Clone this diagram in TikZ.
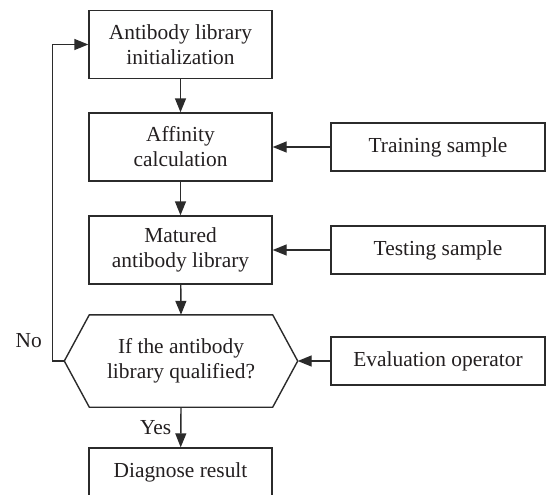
\documentclass[tikz,border=0pt]{standalone}
\usepackage{fontspec}
\setmainfont{Liberation Serif}
\usepackage{tikz}
\usetikzlibrary{arrows.meta,positioning,calc}
\definecolor{inkgray}{HTML}{231F20}
\definecolor{linegray}{HTML}{2B2B2B}
\tikzset{
  blk/.style={draw=linegray, line width=.7pt, fill=white, align=center, inner sep=2pt, text=inkgray, font=\fontsize{10.7}{12.5}\selectfont},
  blkm/.style={blk, minimum width=91.5pt, minimum height=34pt},
  blks/.style={blk, minimum width=107pt, minimum height=24pt},
  hexa/.style={blk, draw=none, fill=none, minimum width=116pt, minimum height=45.5pt},
  ar/.style={-{Triangle[length=7pt,width=5.5pt]}, line width=.7pt, draw=linegray},
  lbl/.style={inner sep=1pt, text=inkgray, font=\fontsize{10.7}{12.5}\selectfont},
}
\begin{document}
\begin{tikzpicture}[x=1pt,y=1pt]
  \useasboundingbox (0,0) rectangle (273,247);
  % main column
  \node[blkm] (init) at (90.25,224.75) {Antibody library\\initialization};
  \node[blkm] (aff) at (90.25,173.5) {Affinity\\calculation};
  \node[blkm] (mat) at (90.25,122) {Matured\\antibody library};
  \node[hexa] (qual) at (90.5,66.5) {If the antibody\\library qualified?};
  \draw[line width=.7pt, draw=linegray] (qual.west) -- ([xshift=12.5pt]qual.north west) -- ([xshift=-12.5pt]qual.north east) -- (qual.east) -- ([xshift=-12.5pt]qual.south east) -- ([xshift=12.5pt]qual.south west) -- cycle;
  \node[blkm, minimum height=24pt] (diag) at (90.25,11) {Diagnose result};
  % inputs on the right
  \node[blks] (train) at (219,173.5) {Training sample};
  \node[blks] (test) at (219,122) {Testing sample};
  \node[blks] (eval) at (219,66.5) {Evaluation operator};
  % connectors
  \draw[ar] (init) -- (aff);
  \draw[ar] (aff) -- (mat);
  \draw[ar] (mat) -- (qual.north);
  \draw[ar] (qual.south) -- node[lbl, left=3.5pt] (yes) {Yes} (diag);
  \draw[ar] (train) -- (aff);
  \draw[ar] (test) -- (mat);
  \draw[ar] (eval) -- (qual.east);
  \coordinate (bend) at ($(qual.west)+(-6pt,0)$);
  \draw[ar] (qual.west) -- (bend) |- (init.west);
  \node[lbl, left=4pt of bend, yshift=10pt] (no) {No};
\end{tikzpicture}
\end{document}
